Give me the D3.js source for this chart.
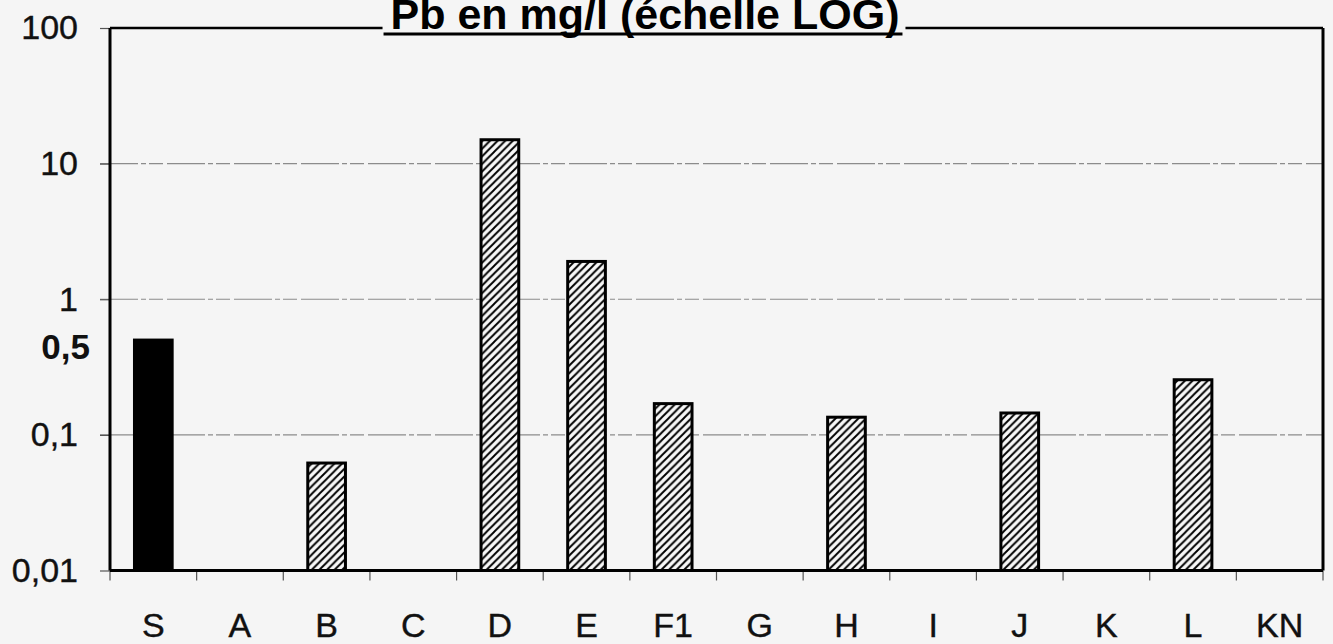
<!DOCTYPE html>
<html>
<head>
<meta charset="utf-8">
<script src="https://cdn.jsdelivr.net/npm/d3@7/dist/d3.min.js"></script>
<style>
  html, body { margin: 0; padding: 0; background: #f5f5f5; }
  svg { display: block; }
</style>
</head>
<body>
<script>
// Lead concentration per sample point (mg/l); null = not detected / no bar
const categories = ["S", "A", "B", "C", "D", "E", "F1", "G", "H", "I", "J", "K", "L", "KN"];
const values     = [0.5, null, 0.062, null, 15, 1.9, 0.17, null, 0.135, null, 0.145, null, 0.255, null];
const yTicks     = [0.01, 0.1, 1, 10, 100];
const yTickLabels = ["0,01", "0,1", "1", "10", "100"];
const refValue   = 0.5;       // reference threshold, shown as a bold label
const refLabel   = "0,5";
const titleText  = "Pb en mg/l (échelle LOG)";

const W = 1333, H = 644;
const bg = "#f5f5f5";
const font = "'Liberation Sans', Arial, Helvetica, sans-serif";
const m = { left: 110, right: 1323, top: 28, bottom: 570.5 };

const svg = d3.select("body").append("svg").attr("width", W).attr("height", H);
svg.append("rect").attr("width", W).attr("height", H).attr("fill", bg);

// Hatch pattern for measured samples
const defs = svg.append("defs");
const P = 7.6;
const pat = defs.append("pattern")
  .attr("id", "hatch").attr("patternUnits", "userSpaceOnUse")
  .attr("width", P).attr("height", P);
pat.append("rect").attr("width", P).attr("height", P).attr("fill", "#f8f8f8");
pat.append("path")
  .attr("d", `M-2,2 L2,-2 M0,${P} L${P},0 M${P - 2},${P + 2} L${P + 2},${P - 2}`)
  .attr("stroke", "#000").attr("stroke-width", 1.9);

const x = d3.scaleBand().domain(categories).range([m.left, m.right]).padding(0);
const y = d3.scaleLog().domain([0.01, 100]).range([m.bottom, m.top]);

// Horizontal gridlines
svg.append("g").selectAll("line")
  .data(yTicks.filter(v => v > 0.01 && v < 100))
  .join("line")
  .attr("x1", m.left - 10).attr("x2", m.right)
  .attr("y1", d => y(d)).attr("y2", d => y(d))
  .attr("stroke", "#8c8c8c").attr("stroke-width", 1.2)
  .attr("stroke-dasharray", "38,3,5,3,14,4");

// Y axis ticks and labels
const yAxis = d3.axisLeft(y)
  .tickValues(yTicks)
  .tickSize(10)
  .tickPadding(22)
  .tickFormat((d, i) => yTickLabels[i]);
const gy = svg.append("g").attr("transform", `translate(${m.left},0)`).call(yAxis);
gy.select(".domain").remove();
gy.selectAll(".tick line").attr("stroke", "#555").attr("stroke-width", 1.2);
gy.selectAll(".tick text")
  .attr("font-family", font).attr("font-size", 34).attr("fill", "#111")
  .attr("stroke", "#111").attr("stroke-width", 0.4);

// Threshold label
svg.append("text")
  .attr("x", 90).attr("y", y(refValue) + 7)
  .attr("dy", "0.35em")
  .attr("text-anchor", "end")
  .attr("font-family", font).attr("font-size", 35).attr("font-weight", "bold")
  .attr("fill", "#111")
  .text(refLabel);

// Bars
const barW = x.bandwidth() * 0.435;
const data = categories.map((c, i) => ({ c, v: values[i] })).filter(d => d.v != null);
svg.append("g").selectAll("rect")
  .data(data)
  .join("rect")
  .attr("x", d => x(d.c) + (x.bandwidth() - barW) / 2)
  .attr("width", barW)
  .attr("y", d => y(d.v))
  .attr("height", d => y(0.01) - y(d.v))
  .attr("fill", d => d.c === "S" ? "#000" : "url(#hatch)")
  .attr("stroke", "#000")
  .attr("stroke-width", 3);

// X axis: boundary ticks + centered labels
svg.append("g").selectAll("line")
  .data(categories.map(c => x(c)).concat([m.right]))
  .join("line")
  .attr("x1", d => d).attr("x2", d => d)
  .attr("y1", m.bottom).attr("y2", m.bottom + 10)
  .attr("stroke", "#555").attr("stroke-width", 1.2);

const xAxis = d3.axisBottom(x).tickSize(0).tickPadding(42);
const gx = svg.append("g").attr("transform", `translate(0,${m.bottom})`).call(xAxis);
gx.select(".domain").remove();
gx.selectAll(".tick text")
  .attr("font-family", font).attr("font-size", 34).attr("fill", "#111")
  .attr("stroke", "#111").attr("stroke-width", 0.4);

// Plot frame
svg.append("line").attr("x1", m.left).attr("x2", m.right).attr("y1", m.top).attr("y2", m.top)
  .attr("stroke", "#000").attr("stroke-width", 2.5);
svg.append("line").attr("x1", m.left).attr("x2", m.right).attr("y1", m.bottom).attr("y2", m.bottom)
  .attr("stroke", "#000").attr("stroke-width", 3);
svg.append("line").attr("x1", m.left).attr("x2", m.left).attr("y1", m.top).attr("y2", m.bottom)
  .attr("stroke", "#000").attr("stroke-width", 3);
svg.append("line").attr("x1", m.right).attr("x2", m.right).attr("y1", m.top).attr("y2", m.bottom)
  .attr("stroke", "#000").attr("stroke-width", 3);

// Title (underlined, sits over the top frame)
const titleCx = 645;
const tg = svg.append("g");
const tBox = tg.append("rect").attr("fill", bg);
const title = tg.append("text")
  .attr("x", titleCx).attr("y", 29)
  .attr("text-anchor", "middle")
  .attr("font-family", font).attr("font-size", 43).attr("font-weight", "bold")
  .attr("fill", "#000")
  .text(titleText);
const tw = title.node().getComputedTextLength();
tBox.attr("x", titleCx - tw / 2 - 8).attr("y", 0).attr("width", tw + 14).attr("height", 32);
tg.append("line")
  .attr("x1", titleCx - tw / 2 - 7).attr("x2", titleCx + tw / 2 + 3)
  .attr("y1", 34).attr("y2", 34)
  .attr("stroke", "#000").attr("stroke-width", 3);
</script>
</body>
</html>
